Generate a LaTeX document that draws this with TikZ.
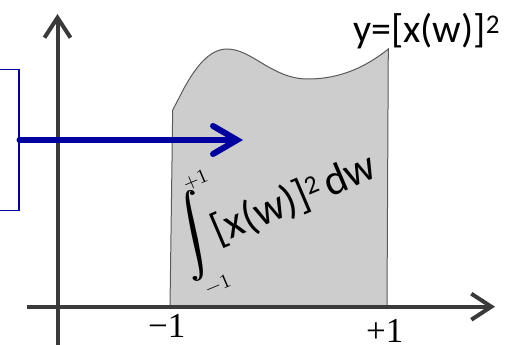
\documentclass[tikz,border=0pt]{standalone}
\usepackage{fontspec}
\usepackage{unicode-math}
\setmathfont{Latin Modern Math}
\newfontfamily\carlito{Carlito}
\newfontfamily\libserif{Liberation Serif}
\usetikzlibrary{arrows.meta}
\definecolor{axisgray}{HTML}{3A3A3A}
\definecolor{areagray}{HTML}{CDCDCD}
\definecolor{edgegray}{HTML}{5A5A5A}
\definecolor{darkblue}{RGB}{0,0,160}
\begin{document}
\begin{tikzpicture}[x=1pt,y=-1pt,
  axisline/.style={draw=axisgray, line width=4pt, -{Straight Barb[length=20pt,width=26pt]}},
  bluearrow/.style={draw=darkblue, line width=6pt, line cap=round, -{Straight Barb[length=24pt,width=28pt,line cap=round]}},
  area/.style={fill=areagray, draw=edgegray, line width=1pt},
  lbl/.style={inner sep=0pt, anchor=base west},
  axlbl/.style={lbl, font=\libserif\fontsize{35}{38}\selectfont},
  tilted/.style={inner sep=0pt, rotate=23},
  limit/.style={tilted, font=\fontsize{20}{20}\selectfont}
]
\useasboundingbox (0,0) rectangle (512,345);
% shaded area under curve
\coordinate (bl) at (170,306.7);
\coordinate (br) at (387,306.7);
\path[area] (bl) -- (172.7,110) -- (180,96)
  .. controls (195,66) and (210,49) .. (227,49)
  .. controls (252,49) and (272,79) .. (308,79)
  .. controls (340,79) and (366,67) .. (388.3,49)
  -- (br) -- cycle;
% axes
\coordinate (xstart) at (27,306.7);
\coordinate (xend) at (495,306.7);
\coordinate (ystart) at (57.5,350);
\coordinate (yend) at (57.5,14);
\draw[axisline] (xstart) -- (xend);
\draw[axisline] (ystart) -- (yend);
% blue box and arrow
\node[draw=darkblue, line width=1.6pt, minimum width=60pt, minimum height=141pt, inner sep=0pt] (box) at (-11.3,140) {};
\coordinate (arrowtip) at (243,140);
\draw[bluearrow] (box.east) -- (arrowtip);
% labels
\node[lbl, font=\carlito\fontsize{40}{44}\selectfont] (curvelabel) at (353,43) {y=[x(w)]\raisebox{9pt}{\fontsize{27}{27}\selectfont 2}};
\node[axlbl] (minusone) at (148,337) {−1};
\node[axlbl] (plusone) at (366,342) {+1};
% integral
\node[tilted, font=\fontsize{39}{42}\selectfont] (intsign) at (194,236) {\rlap{$\displaystyle\int$}\kern0.9pt$\displaystyle\int$};
\node[limit] (upper) at (196,180) {$+1$};
\node[limit] (lower) at (218,284) {$-1$};
\node[tilted, font=\carlito\fontsize{43}{46}\selectfont] (integrand) at (294,199)
  {[x(w)]\raisebox{10pt}{\fontsize{26}{26}\selectfont 2}\hspace{6pt}dw};
\end{tikzpicture}
\end{document}
